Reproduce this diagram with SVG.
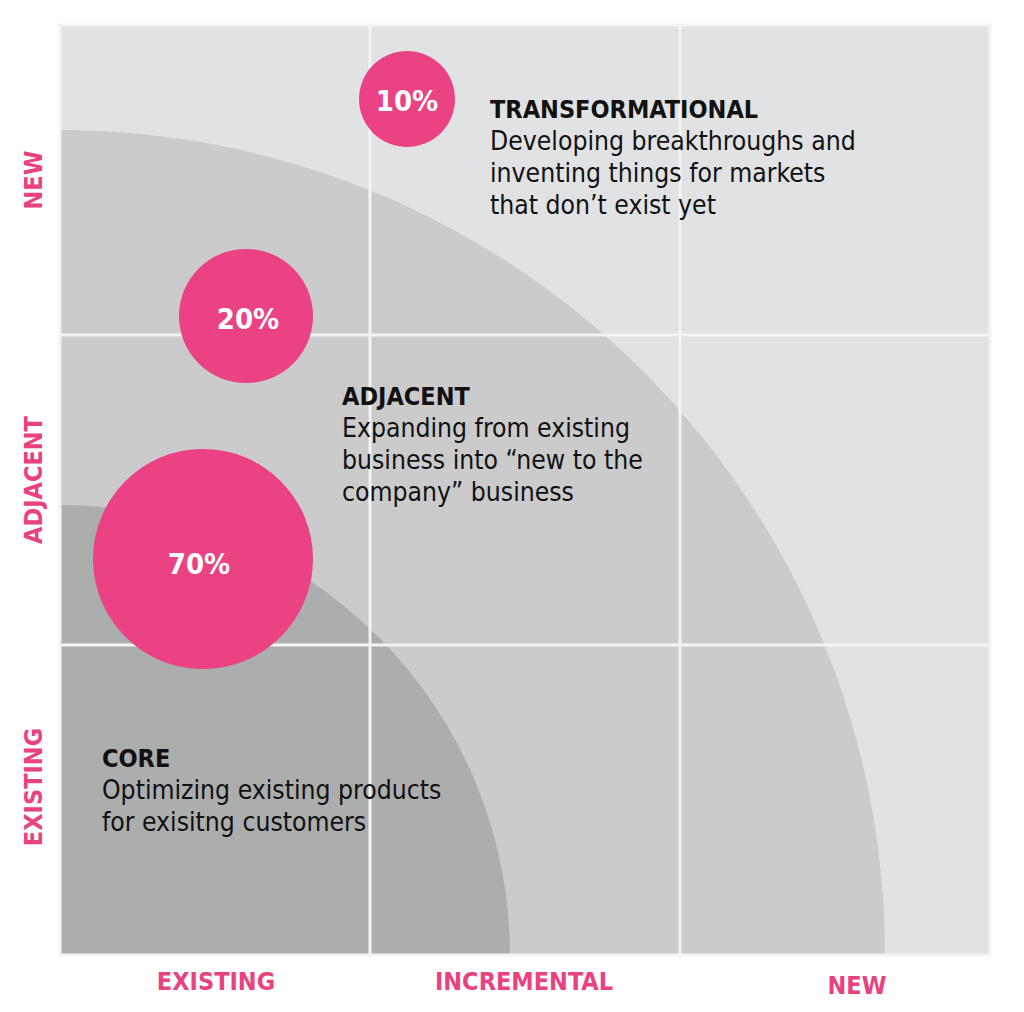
<svg xmlns="http://www.w3.org/2000/svg" width="1024" height="1012" viewBox="0 0 1024 1012">
  <style>
    .body { font-family: "DejaVu Sans Condensed", "DejaVu Sans", sans-serif; font-stretch: condensed; font-size: 26.3px; fill: #111111; }
    .head { font-weight: bold; font-size: 25px; }
    .axis { font-family: "DejaVu Sans Condensed", "DejaVu Sans", sans-serif; font-stretch: condensed; font-weight: bold; font-size: 25px; fill: #e94281; }
    .pct { font-family: "DejaVu Sans Condensed", "DejaVu Sans", sans-serif; font-stretch: condensed; font-weight: bold; font-size: 29px; fill: #ffffff; text-anchor: middle; }
    .bubble { fill: #ea4282; }
    .grid { stroke: #f4f4f5; stroke-width: 3; fill: none; }
  </style>
  <rect width="1024" height="1012" fill="#ffffff"/>
  <g id="background">
    <rect x="60" y="25" width="930" height="930" fill="#e1e2e4"/>
    <path d="M60,130 A825,825 0 0 1 885,955 L60,955 Z" fill="#cbcbcc"/>
    <path d="M60,505 A450,450 0 0 1 510,955 L60,955 Z" fill="#acadad"/>
  </g>
  <g id="grid">
    <line class="grid" x1="370" y1="25" x2="370" y2="955"/>
    <line class="grid" x1="680" y1="25" x2="680" y2="955"/>
    <line class="grid" x1="60" y1="335" x2="990" y2="335"/>
    <line class="grid" x1="60" y1="645" x2="990" y2="645"/>
    <rect class="grid" x="60" y="25" width="930" height="930" stroke="#eeeff0"/>
  </g>
  <g id="node-10">
    <circle class="bubble" cx="407" cy="99" r="48"/>
    <text class="pct" x="407" y="111">10%</text>
  </g>
  <g id="node-20">
    <circle class="bubble" cx="246" cy="316" r="67"/>
    <text class="pct" x="248" y="329">20%</text>
  </g>
  <g id="node-70">
    <circle class="bubble" cx="203" cy="559" r="110"/>
    <text class="pct" x="199" y="574">70%</text>
  </g>
  <g id="transformational">
    <text class="body" x="490" y="118"><tspan class="head">TRANSFORMATIONAL</tspan><tspan x="490" y="150">Developing breakthroughs and</tspan><tspan x="490" y="182">inventing things for markets</tspan><tspan x="490" y="214">that don’t exist yet</tspan></text>
  </g>
  <g id="adjacent">
    <text class="body" x="342" y="405"><tspan class="head">ADJACENT</tspan><tspan x="342" y="437">Expanding from existing</tspan><tspan x="342" y="469">business into “new to the</tspan><tspan x="342" y="501">company” business</tspan></text>
  </g>
  <g id="core">
    <text class="body" x="102" y="767"><tspan class="head">CORE</tspan><tspan x="102" y="799">Optimizing existing products</tspan><tspan x="102" y="831">for exisitng customers</tspan></text>
  </g>
  <g id="axis-x">
    <text class="axis" x="216" y="990" text-anchor="middle">EXISTING</text>
    <text class="axis" x="524" y="990" text-anchor="middle">INCREMENTAL</text>
    <text class="axis" x="857" y="994" text-anchor="middle">NEW</text>
  </g>
  <g id="axis-y">
    <text class="axis" transform="translate(42,180) rotate(-90)" text-anchor="middle">NEW</text>
    <text class="axis" transform="translate(42,480) rotate(-90)" text-anchor="middle">ADJACENT</text>
    <text class="axis" transform="translate(42,787) rotate(-90)" text-anchor="middle">EXISTING</text>
  </g>
  <g id="connectors"></g>
</svg>
